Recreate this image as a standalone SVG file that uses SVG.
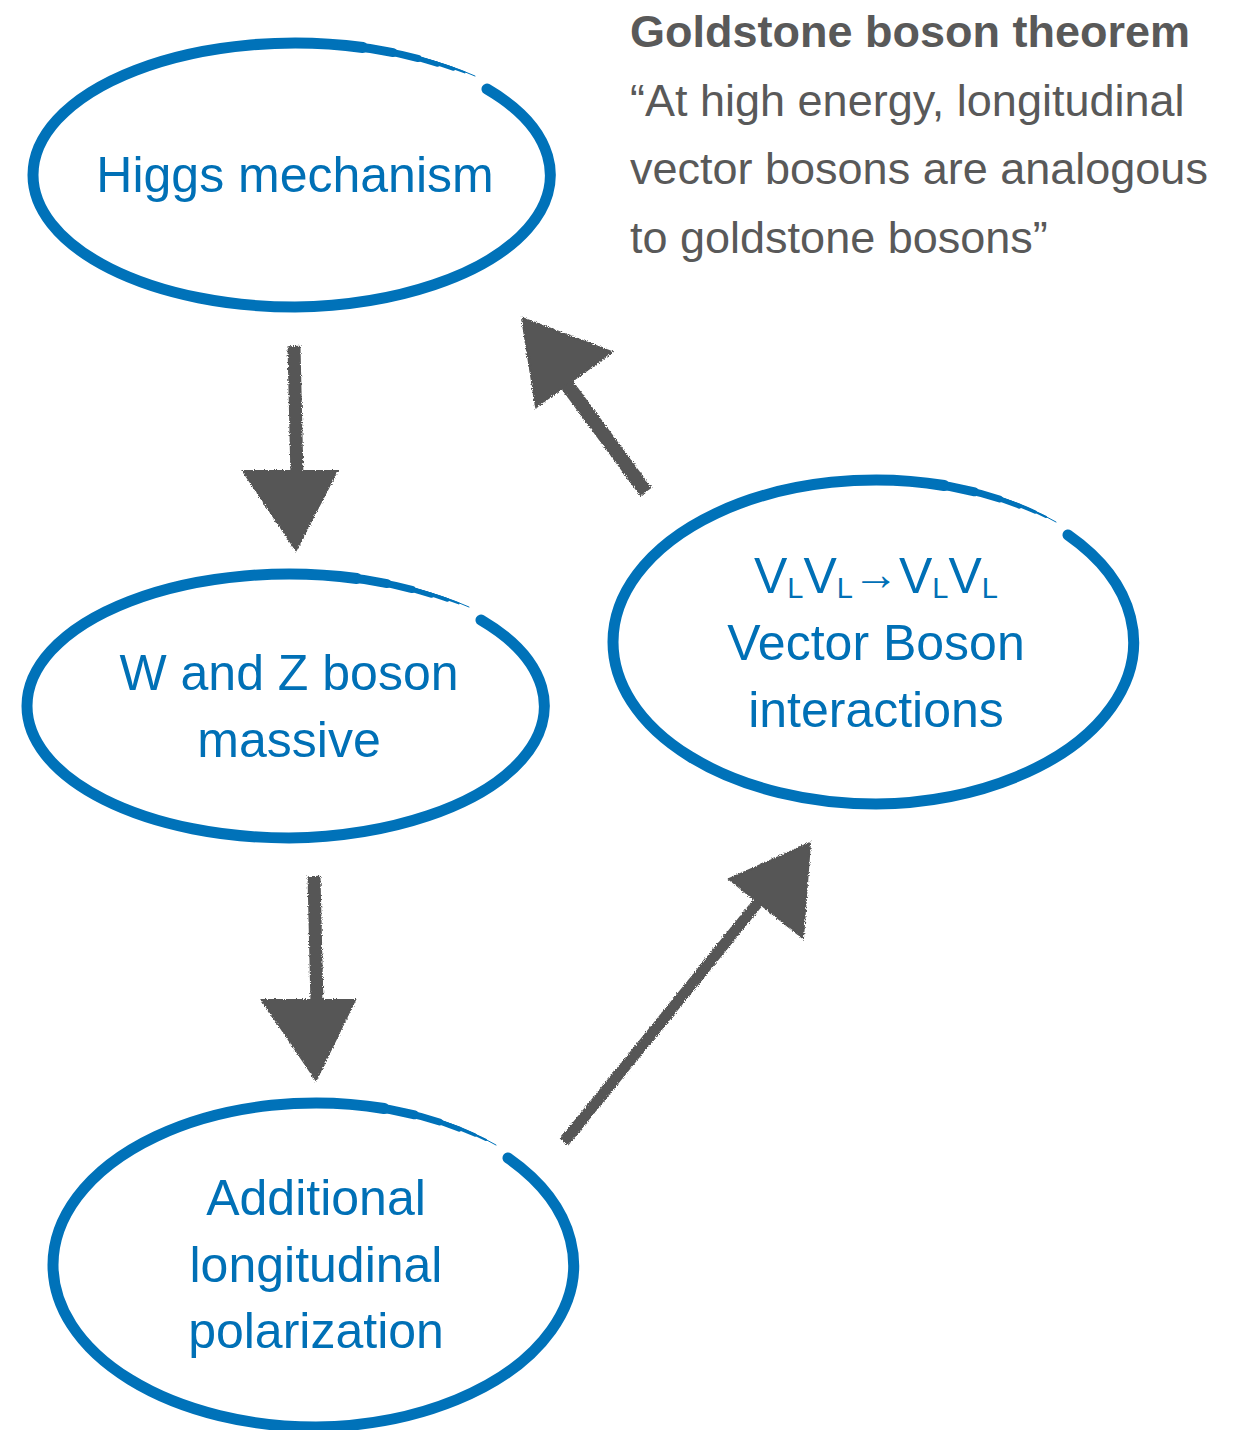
<svg xmlns="http://www.w3.org/2000/svg" xmlns:xlink="http://www.w3.org/1999/xlink" width="1242" height="1430" viewBox="0 0 1242 1430">
<style>
.ring{fill:none;stroke:#0072b9;stroke-linecap:round}
.lbl{font-family:"Liberation Sans",Arial,Helvetica,sans-serif;font-size:50px;fill:#0070b6;text-anchor:middle}
.sub{font-size:29px}
.arw{font-size:46px}
.note{font-family:"Liberation Sans",Arial,Helvetica,sans-serif;font-size:45px;fill:#595959}
.arr{fill:#565656;stroke:#565656}
.shaft{fill:none;stroke:#565656;stroke-linecap:butt}
</style>
<defs>
<filter id="rough" x="-10%" y="-10%" width="120%" height="120%">
<feTurbulence type="fractalNoise" baseFrequency="0.9" numOctaves="2" seed="3" result="n"/>
<feDisplacementMap in="SourceGraphic" in2="n" scale="4" xChannelSelector="R" yChannelSelector="G"/>
</filter>
<g id="ringA">
<path class="ring" stroke-width="11" d="M192,-86 A262 132 0 0 1 0,132 A262 132 0 0 1 -262,0 A262 132 0 0 1 67.8,-127.5"/>
<path class="ring" stroke-width="9" d="M0,-132 A262 132 0 0 1 98.1,-122.4"/>
<path class="ring" stroke-width="7" d="M45.5,-130 A262 132 0 0 1 123,-116.5"/>
<path class="ring" stroke-width="5" d="M67.8,-127.5 A262 132 0 0 1 142.7,-110.7"/>
<path class="ring" stroke-width="3.5" d="M89.6,-124 A263 133 0 0 1 158.5,-106"/>
<path class="ring" stroke-width="2" d="M110.7,-120 A264 134 0 0 1 169.7,-102.6"/>
<path class="ring" stroke-width="1" d="M120,-119 A266 135 0 0 1 180,-99"/>
</g>
<g id="ringB">
<path class="ring" stroke-width="11" d="M192,-107 A263 162 0 0 1 0,162 A263 162 0 0 1 -263,0 A263 162 0 0 1 68.1,-156.5"/>
<path class="ring" stroke-width="9" d="M0,-162 A263 162 0 0 1 98.5,-150.2"/>
<path class="ring" stroke-width="7" d="M45.7,-159.5 A263 162 0 0 1 123.5,-143"/>
<path class="ring" stroke-width="5" d="M68.1,-156.5 A263 162 0 0 1 143.2,-135.9"/>
<path class="ring" stroke-width="3.5" d="M89.9,-152.2 A264 163 0 0 1 159,-130"/>
<path class="ring" stroke-width="2" d="M111.1,-147 A265 164 0 0 1 170,-125"/>
<path class="ring" stroke-width="1" d="M120,-146 A266 165 0 0 1 180,-120"/>
</g>
</defs>
<rect width="1242" height="1430" fill="#ffffff"/>

<g id="connectors" filter="url(#rough)">
<g id="arrow-higgs-wz">
<path class="shaft" stroke-width="13" d="M294,346 L297,478"/>
<polygon class="arr" stroke-width="2" points="243,471 337,471 296,550"/>
</g>
<g id="arrow-wz-pol">
<path class="shaft" stroke-width="13" d="M314,876 L317,1005"/>
<polygon class="arr" stroke-width="2" points="262,1000 355,1000 316,1080"/>
</g>
<g id="arrow-vbs-higgs">
<path class="shaft" stroke-width="14" d="M646,492 L565,382"/>
<polygon class="arr" stroke-width="2" points="522,318 612,352 536,407"/>
</g>
<g id="arrow-pol-vbs">
<path class="shaft" stroke-width="11" d="M564,1142 L760,900"/>
<polygon class="arr" stroke-width="2" points="810,843 729,879 803,938"/>
</g>
</g>

<g id="node-higgs">
<use xlink:href="#ringA" transform="translate(295,175)"/>
<text class="lbl" x="295" y="192">Higgs mechanism</text>
</g>

<g id="node-wz">
<use xlink:href="#ringA" transform="translate(289,706)"/>
<text class="lbl" x="289" y="690">W and Z boson</text>
<text class="lbl" x="289" y="757">massive</text>
</g>

<g id="node-polarization">
<use xlink:href="#ringB" transform="translate(316,1265)"/>
<text class="lbl" x="316" y="1215">Additional</text>
<text class="lbl" x="316" y="1282">longitudinal</text>
<text class="lbl" x="316" y="1348">polarization</text>
</g>

<g id="node-vbs">
<use xlink:href="#ringB" transform="translate(876,642)"/>
<text class="lbl" x="876" y="593">V<tspan class="sub" dy="5">L</tspan><tspan dy="-5">V</tspan><tspan class="sub" dy="5">L</tspan><tspan class="arw" dy="-8">→</tspan><tspan dy="3">V</tspan><tspan class="sub" dy="5">L</tspan><tspan dy="-5">V</tspan><tspan class="sub" dy="5">L</tspan></text>
<text class="lbl" x="876" y="660">Vector Boson</text>
<text class="lbl" x="876" y="727">interactions</text>
</g>

<g id="note-goldstone">
<text class="note" x="630" y="47" font-weight="bold">Goldstone boson theorem</text>
<text class="note" x="630" y="116">“At high energy, longitudinal</text>
<text class="note" x="630" y="184">vector bosons are analogous</text>
<text class="note" x="630" y="253">to goldstone bosons”</text>
</g>
</svg>
